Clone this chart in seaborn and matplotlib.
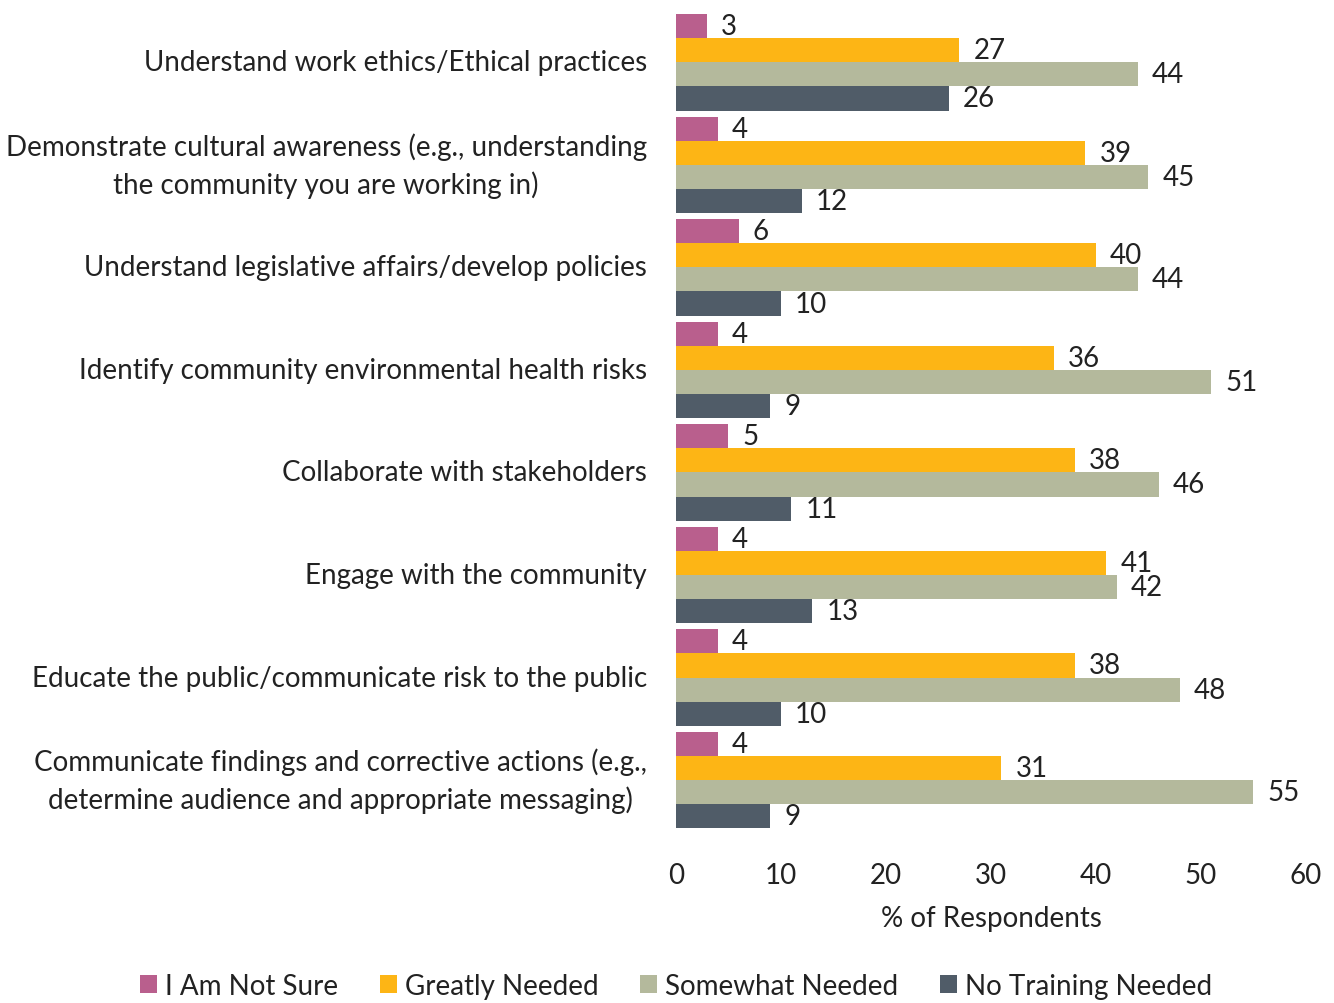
import matplotlib
matplotlib.use("Agg")
import matplotlib.pyplot as plt
import seaborn as sns
import pandas as pd
from matplotlib.patches import Patch

categories = [
    "Understand work ethics/Ethical practices",
    "Demonstrate cultural awareness (e.g., understanding\nthe community you are working in)",
    "Understand legislative affairs/develop policies",
    "Identify community environmental health risks",
    "Collaborate with stakeholders",
    "Engage with the community",
    "Educate the public/communicate risk to the public",
    "Communicate findings and corrective actions (e.g.,\ndetermine audience and appropriate messaging)",
]
series = ["I Am Not Sure", "Greatly Needed", "Somewhat Needed", "No Training Needed"]
not_sure = [3, 4, 6, 4, 5, 4, 4, 4]
greatly = [27, 39, 40, 36, 38, 41, 38, 31]
somewhat = [44, 45, 44, 51, 46, 42, 48, 55]
no_training = [26, 12, 10, 9, 11, 13, 10, 9]
colors = ["#B95F8D", "#FDB515", "#B4B99C", "#505C68"]

rows = []
for s, vals in zip(series, [not_sure, greatly, somewhat, no_training]):
    for c, v in zip(categories, vals):
        rows.append({"Category": c, "Series": s, "Value": v})
df = pd.DataFrame(rows)

sns.set_theme(style="white")
plt.rcParams["font.family"] = ["Lato", "DejaVu Sans"]

FS = 20
fig = plt.figure(figsize=(13.34, 10.04), dpi=100)
ax = fig.add_axes([0.5067, 0.171, 0.4723, 0.817])
sns.barplot(data=df, y="Category", x="Value", hue="Series", order=categories,
            hue_order=series, palette=colors, width=0.94, gap=0, ax=ax,
            orient="h", legend=False, saturation=1, linewidth=0)

for cont in ax.containers:
    ax.bar_label(cont, padding=10, fontsize=FS, color="#222222")

ax.set_xlim(0, 60)
ax.set_ylim(7.5, -0.5)
ax.set_xticks(range(0, 61, 10))
ax.tick_params(axis="x", labelsize=FS, pad=22, length=0, colors="#222222")
ax.tick_params(axis="y", labelsize=FS, pad=21, length=0, colors="#222222")
for t in ax.get_yticklabels():
    t.set_multialignment("center")
    t.set_linespacing(1.45)
    t.set_verticalalignment("center")
ax.set_ylabel("")
ax.set_xlabel("% of Respondents", fontsize=FS, labelpad=12, color="#222222")
for sp in ax.spines.values():
    sp.set_visible(False)
ax.grid(False)

handles = [Patch(facecolor=c, edgecolor="none") for c in colors]
fig.legend(handles, series, loc="lower center", bbox_to_anchor=(0.507, -0.021),
           ncol=4, frameon=False, fontsize=FS, handlelength=0.6, handleheight=0.6,
           handletextpad=0.3, columnspacing=1.5, labelcolor="#222222")

fig.savefig("out.png", dpi=100)
